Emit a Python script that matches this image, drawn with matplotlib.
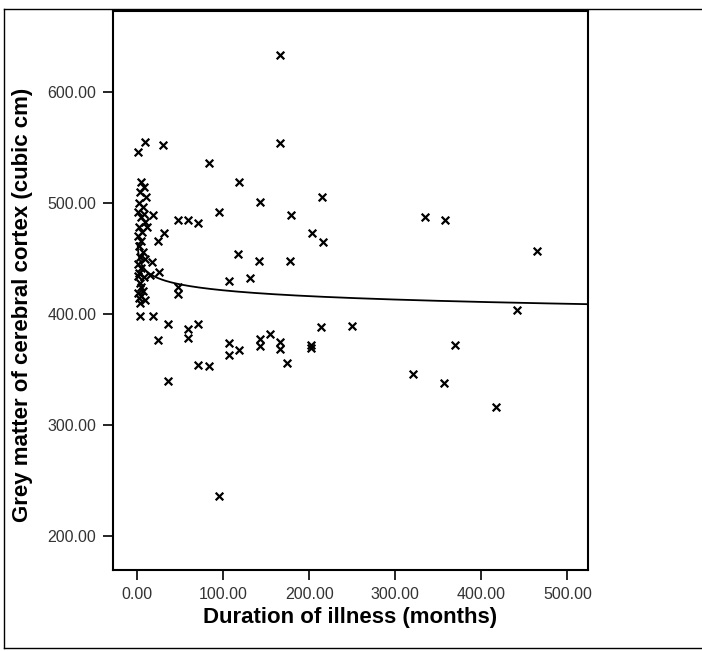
import numpy as np
import matplotlib
matplotlib.use('Agg')
import matplotlib.pyplot as plt
from matplotlib.lines import Line2D

# duration of illness (months) vs grey matter volume (cubic cm)
duration = [
    166, 166, 9, 0.5, 30, 83, 118, 143, 95, 215, 179, 203, 216,
    47, 59, 71, 8, 18, 12, 31, 24,
    117, 142, 178, 131, 107,
    334, 358, 465, 441, 369, 321, 357, 417,
    214, 250, 202, 202, 166, 166, 174, 155, 143, 143, 119, 107, 107,
    83, 71, 71, 59, 59, 36, 24, 36, 95, 18, 3.5, 47, 47, 25, 17, 15, 1.5,
    5, 8, 3, 10, 2, 7, 1, 4, 9, 2, 6, 1, 4, 2, 7, 3, 9, 1, 5, 2, 8, 3,
    4, 7, 1, 5, 2, 9, 3,
]
grey_matter = [
    633, 554, 555, 546, 552, 536, 519, 501, 492, 505, 489, 473, 465,
    485, 485, 482, 490, 489, 478, 473, 466,
    454, 448, 448, 432, 430,
    487, 485, 457, 403, 372, 346, 338, 316,
    388, 389, 372, 369, 375, 368, 356, 382, 377, 371, 367, 374, 363,
    353, 354, 391, 386, 378, 391, 376, 339, 236, 398, 398, 424, 418, 438, 447, 435, 434,
    519, 514, 510, 505, 500, 496, 492, 487, 483, 478, 474, 470, 466, 461, 456, 451, 449, 445, 441, 437, 433, 428,
    424, 421, 419, 416, 414, 412, 410,
]

# power curve fit  y = a * x^b
fit_a = 458.0
fit_b = -0.0182

xticks = [0, 100, 200, 300, 400, 500]
yticks = [200, 300, 400, 500, 600]

W, H = 702, 651
fig = plt.figure(figsize=(W / 100, H / 100), dpi=100)
ax = fig.add_axes([113 / W, 1 - 570 / H, (588 - 113) / W, (570 - 11) / H])

ax.scatter(duration, grey_matter, marker='x', s=30, c='black', linewidths=1.6, zorder=3)

xs = np.linspace(0.5, 524, 800)
ax.plot(xs, fit_a * xs ** fit_b, color='black', lw=1.3, zorder=2)

ax.set_xlim(-28, 524)
ax.set_ylim(169, 673)
ax.set_xticks(xticks)
ax.set_yticks(yticks)
ax.set_xticklabels(['%.2f' % v for v in xticks])
ax.set_yticklabels(['%.2f' % v for v in yticks])
ax.tick_params(direction='out', length=7, width=1.2, color='black',
               labelsize=11.5, labelcolor='#333333', pad=5)
for lab in ax.get_xticklabels() + ax.get_yticklabels():
    lab.set_family('Liberation Sans')
for sp in ax.spines.values():
    sp.set_linewidth(1.5)

ax.set_xlabel('Duration of illness (months)', fontsize=16, fontweight='bold',
              family='Liberation Sans', va='center')
ax.set_ylabel('Grey matter of cerebral cortex (cubic cm)', fontsize=16, fontweight='bold',
              family='Liberation Sans', va='center')
ax.xaxis.set_label_coords(0.5, (570 - 617) / 559)
ax.yaxis.set_label_coords((22 - 113) / 475, (570 - 305) / 559)

# outer frame of the figure
fig.add_artist(Line2D([4 / W, 4 / W], [1 - 648 / H, 1 - 9 / H], color='black', lw=1, transform=fig.transFigure))
fig.add_artist(Line2D([4 / W, 1], [1 - 9 / H, 1 - 9 / H], color='black', lw=1, transform=fig.transFigure))
fig.add_artist(Line2D([4 / W, 1], [1 - 648 / H, 1 - 648 / H], color='black', lw=1, transform=fig.transFigure))

fig.savefig('out.png', dpi=100)
